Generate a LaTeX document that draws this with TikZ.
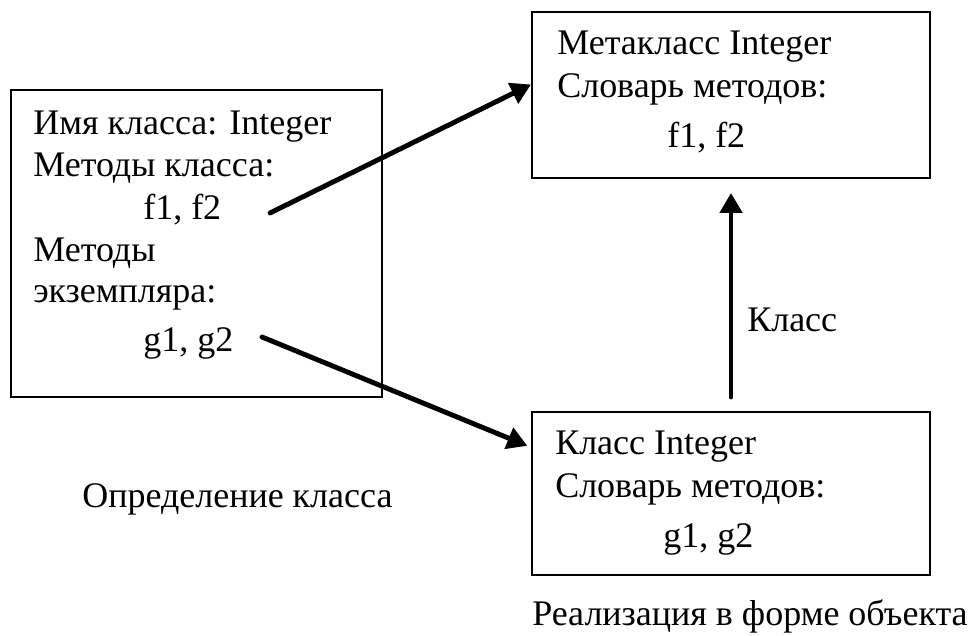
\documentclass[tikz,border=0pt]{standalone}
\usepackage{fontspec}
\setmainfont{Liberation Serif}
\usetikzlibrary{arrows.meta}

\tikzset{
    box/.style={draw, line width=1.4pt, inner sep=0pt},
    txt/.style={anchor=base west, inner sep=0pt, font=\fontsize{25.6}{30.6}\selectfont},
    link/.style={-{Triangle[length=0.5cm,width=0.55cm]}, line width=3.5pt, line cap=round},
}

\begin{document}
\begin{tikzpicture}
            \useasboundingbox (0,0) rectangle (24.325,15.9);

            % the three boxes
            \node[box, minimum width=9.275cm, minimum height=7.675cm] (defbox) at (4.9125,9.8125) {};
            \node[box, minimum width=9.95cm, minimum height=4.15cm] (metabox) at (18.275,13.525) {};
            \node[box, minimum width=9.95cm, minimum height=4.075cm] (classbox) at (18.275,3.5625) {};

            % class definition
            \node[txt] (name) at (0.825,12.525) {Имя класса: Integer};
            \node[txt] (cmeth) at (0.825,11.475) {Методы класса:};
            \node[txt] (flist) at (3.575,10.4) {f1, f2};
            \node[txt] (imeth) at (0.825,9.35) {Методы};
            \node[txt] (inst) at (0.825,8.325) {экземпляра:};
            \node[txt] (glist) at (3.575,7.1) {g1, g2};

            % metaclass
            \node[txt] (mname) at (13.925,14.525) {Метакласс Integer};
            \node[txt] (mdict) at (13.925,13.45) {Словарь методов:};
            \node[txt] (mflist) at (16.675,12.2) {f1, f2};

            % class object
            \node[txt] (kname) at (13.875,4.525) {Класс Integer};
            \node[txt] (kdict) at (13.875,3.45) {Словарь методов:};
            \node[txt] (kglist) at (16.575,2.2) {g1, g2};

            % captions
            \node[txt] (defcap) at (2.05,3.2) {Определение класса};
            \node[txt] (objcap) at (13.3,0.275) {Реализация в форме объекта};

            % arrows
            \coordinate (fstart) at (6.75,10.575);
            \coordinate (gstart) at (6.55,7.475);
            \draw[link] (fstart) -- (metabox.177);
            \draw[link, shorten >=0.1cm] (gstart) -- (classbox.167);
            \draw[link, shorten <=0.35cm, shorten >=0.35cm] (classbox.north) -- (metabox.south);
            \node[txt] (isa) at (18.675,7.6) {Класс};
\end{tikzpicture}
\end{document}
